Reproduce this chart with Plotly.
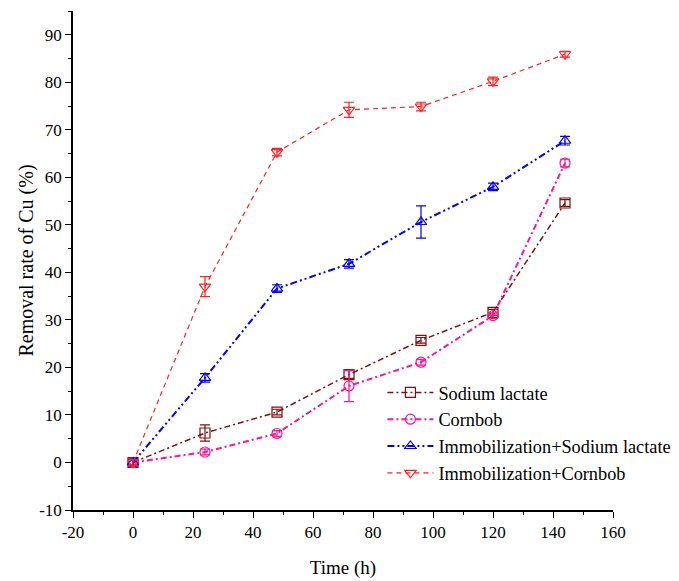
import plotly.graph_objects as go

time_h = [0, 24, 48, 72, 96, 120, 144]

sodium_lactate = [0.0, 6.2, 10.6, 18.5, 25.7, 31.6, 54.6]
sodium_lactate_err = [0.6, 1.7, 0.6, 0.8, 0.6, 0.6, 0.7]

cornbob = [0.0, 2.2, 6.1, 16.1, 21.1, 30.9, 63.0]
cornbob_err = [0.6, 0.6, 0.6, 3.3, 0.6, 0.6, 0.8]

immob_sodium_lactate = [0.0, 17.8, 36.6, 41.8, 50.6, 58.0, 67.7]
immob_sodium_lactate_err = [0.7, 0.9, 0.8, 0.9, 3.4, 0.8, 0.9]

immob_cornbob = [0.0, 37.0, 65.3, 74.2, 74.9, 80.2, 85.9]
immob_cornbob_err = [0.6, 2.1, 0.8, 1.6, 0.9, 0.9, 0.6]

x_ticks = [-20, 0, 20, 40, 60, 80, 100, 120, 140, 160]
x_tick_labels = ["-20", "0", "20", "40", "60", "80", "100", "120", "140", "160"]
y_ticks = [-10, 0, 10, 20, 30, 40, 50, 60, 70, 80, 90]
y_tick_labels = ["-10", "0", "10", "20", "30", "40", "50", "60", "70", "80", "90"]

series = [
    ("Sodium lactate", sodium_lactate, sodium_lactate_err, "#7F1010", "square-open", "6px,3px,2px,3px", 1.5),
    ("Cornbob", cornbob, cornbob_err, "#FF1493", "circle-open", "6px,3px,2px,3px", 2),
    ("Immobilization+Sodium lactate", immob_sodium_lactate, immob_sodium_lactate_err, "#0000FF", "triangle-up-open", "7px,3px,2px,3px,2px,3px", 2),
    ("Immobilization+Cornbob", immob_cornbob, immob_cornbob_err, "#FF2020", "triangle-down-open", "5px,4px", 1.2),
]

fig = go.Figure()
for name, y, err, color, sym, dash, w in series:
    fig.add_trace(go.Scatter(
        x=time_h, y=y, name=name, mode="lines+markers",
        line=dict(color=color, dash=dash, width=w),
        marker=dict(symbol=sym, size=10, color=color, line=dict(width=1.2, color=color)),
        error_y=dict(type="data", array=err, visible=True, color=color, thickness=1.2, width=5),
    ))

font_family = "Liberation Serif"

fig.update_layout(
    width=671, height=573,
    margin=dict(l=65, r=66, t=3, b=71, autoexpand=False),
    paper_bgcolor="white", plot_bgcolor="white",
    font=dict(family=font_family, size=17, color="black"),
    showlegend=True,
    legend=dict(
        x=0.573, y=0.2725, xanchor="left", yanchor="top",
        bgcolor="rgba(0,0,0,0)", borderwidth=0,
        font=dict(family=font_family, size=18.3, color="black"),
        tracegroupgap=0, itemwidth=46,
    ),
)

fig.update_xaxes(
    range=[-20, 160], tickmode="array", tickvals=x_ticks, ticktext=x_tick_labels,
    automargin=False,
    showgrid=False, zeroline=False,
    showline=True, linecolor="black", linewidth=1.5,
    ticks="outside", ticklen=6, tickwidth=1.2, tickcolor="black",
    minor=dict(dtick=10, tick0=-20, ticks="outside", ticklen=3, tickcolor="black", showgrid=False),
    tickfont=dict(family=font_family, size=17),
    title=dict(text="Time (h)", font=dict(family=font_family, size=19), standoff=20),
)
fig.update_yaxes(
    range=[-10, 95], tickmode="array", tickvals=y_ticks, ticktext=y_tick_labels,
    automargin=False,
    showgrid=False, zeroline=False,
    showline=True, linecolor="black", linewidth=1.5,
    ticks="outside", ticklen=6, tickwidth=1.2, tickcolor="black",
    minor=dict(dtick=5, tick0=-10, ticks="outside", ticklen=3, tickcolor="black", showgrid=False),
    tickfont=dict(family=font_family, size=17),
    title=dict(text="Removal rate of Cu (%)", font=dict(family=font_family, size=20), standoff=0),
)

fig.write_html("out.html")
